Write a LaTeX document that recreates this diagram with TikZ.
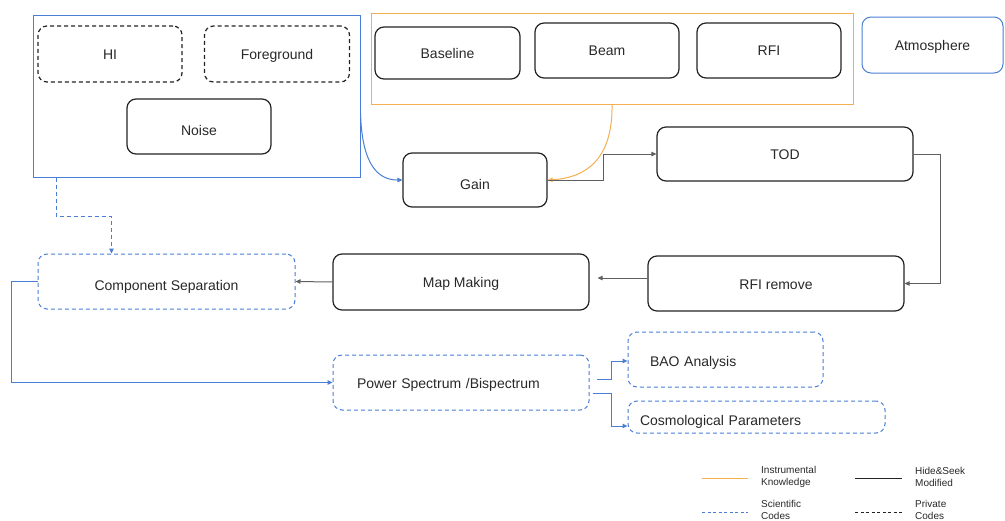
\documentclass[tikz,border=0pt]{standalone}
\usepackage{fontspec}
\setmainfont{Liberation Sans}
\usetikzlibrary{arrows.meta,calc}

\definecolor{sciblue}{RGB}{74,126,212}
\definecolor{instorange}{RGB}{244,175,82}
\definecolor{linkgray}{RGB}{95,95,95}
\definecolor{boxline}{RGB}{35,35,35}
\definecolor{textcol}{RGB}{40,40,40}

\tikzset{
  base/.style={rectangle, inner sep=0pt, align=center, text=textcol,
    font=\fontsize{14}{16}\selectfont, text height=10pt, text depth=0pt},
  lower/.style={text height=#1},
  hsbox/.style={base, draw=boxline, line width=1.2pt, rounded corners=9pt},
  privbox/.style={hsbox, dash pattern=on 4pt off 3pt},
  scibox/.style={base, draw=sciblue, line width=1pt, rounded corners=9pt,
    dash pattern=on 4pt off 3pt},
  atmobox/.style={base, draw=sciblue, line width=1pt, rounded corners=9pt},
  groupbox/.style={rectangle, inner sep=0pt, line width=1pt},
  tip/.style={-{Triangle[length=5pt,width=4.5pt]}},
  graylink/.style={tip, draw=linkgray, line width=1pt},
  bluelink/.style={tip, draw=sciblue, line width=1pt},
  orangelink/.style={tip, draw=instorange, line width=1pt},
  legtext/.style={inner sep=0pt, anchor=west, align=left, text=textcol,
    font=\fontsize{10}{11.5}\selectfont},
}

\begin{document}
\begin{tikzpicture}[x=1pt, y=-1pt]
\useasboundingbox (0,0) rectangle (1005,520);

% simulated sky components
\node[groupbox, draw=sciblue, minimum width=327pt, minimum height=162pt] (sky) at (196.5,96) {};
\node[privbox, minimum width=144pt, minimum height=56pt] (hi) at (110,54) {HI};
\node[privbox, minimum width=145pt, minimum height=56pt] (fg) at (277,54) {Foreground};
\node[hsbox, lower=17pt, minimum width=144pt, minimum height=55pt] (noise) at (199,126.5) {Noise};

% instrumental effects
\node[groupbox, draw=instorange, minimum width=482pt, minimum height=91pt] (inst) at (612,58.5) {};
\node[hsbox, minimum width=145pt, minimum height=52pt] (baseline) at (447.5,53) {Baseline};
\node[hsbox, minimum width=144pt, minimum height=55pt] (beam) at (607,50.5) {Beam};
\node[hsbox, minimum width=144pt, minimum height=55pt] (rfi) at (769,50.5) {RFI};
\node[atmobox, lower=11.5pt, minimum width=141pt, minimum height=56pt] (atmos) at (932.5,45) {Atmosphere};

% processing chain
\node[hsbox, lower=18pt, minimum width=144pt, minimum height=54pt] (gain) at (475,180) {Gain};
\node[hsbox, minimum width=256pt, minimum height=54pt] (tod) at (785,154) {TOD};
\node[hsbox, lower=11pt, minimum width=256pt, minimum height=55pt] (rfirem) at (776,283.5) {RFI remove};
\node[hsbox, minimum width=256pt, minimum height=56pt] (mapmk) at (461,282) {Map Making};
\node[scibox, lower=17pt, minimum width=257pt, minimum height=55pt] (compsep) at (166.5,281.5) {Component Separation};
\node[scibox, lower=11pt, minimum width=256pt, minimum height=55pt, inner xsep=24pt,
      text width=208pt, align=left] (pspec) at (461,382.5) {Power Spectrum /Bispectrum};
\node[scibox, lower=13pt, minimum width=195pt, minimum height=55pt, inner xsep=22pt,
      text width=151pt, align=left] (bao) at (725.5,359.5) {BAO Analysis};
\node[scibox, lower=16pt, minimum width=257pt, minimum height=32pt, inner xsep=12pt,
      text width=233pt, align=left] (cosmo) at (756.5,417) {Cosmological Parameters};

% connectors
\draw[bluelink] ([yshift=-17pt]sky.east) .. controls (362,165) and (378,180) .. (gain.west);
\draw[orangelink] (inst.south) .. controls (613,160) and (585,178) .. (gain.east);
\draw[graylink] (gain.east) -- ++(56,0) |- (tod.west);
\draw[graylink] (tod.east) -- ++(27,0) |- (rfirem.east);
\draw[graylink, shorten >=8pt] ([yshift=5.5pt]rfirem.west) -- ([yshift=5.5pt]rfirem.west -| mapmk.east);
\draw[graylink] (mapmk.west) -- (compsep.east);
\draw[bluelink, dash pattern=on 4pt off 3pt] ([xshift=24pt]sky.south west) -- ++(0,39) -| ([xshift=74pt]compsep.north west);
\draw[bluelink] (compsep.west) -- ++(-26,0) |- (pspec.west);
\draw[bluelink] ([xshift=7pt,yshift=3.5pt]pspec.east) -- ++(15,0) |- ([yshift=-1.5pt]bao.west);
\draw[bluelink] ([xshift=3pt,yshift=-10.5pt]pspec.east) -- ++(19,0) |- ([yshift=-9pt]cosmo.west);

% legend
\draw[instorange, line width=1pt] (702,478) -- (748,478);
\node[legtext] (lgi) at (761,477) {Instrumental\\Knowledge};
\draw[boxline, line width=1pt] (855,478) -- (902,478);
\node[legtext] (lgh) at (915,477) {Hide\&Seek\\Modified};
\draw[sciblue, line width=0.8pt, dash pattern=on 3pt off 2.5pt] (702,512) -- (748,512);
\node[legtext] (lgs) at (761,510) {Scientific\\Codes};
\draw[boxline, line width=0.8pt, dash pattern=on 3pt off 2.5pt] (855,512) -- (902,512);
\node[legtext] (lgp) at (915,510) {Private\\Codes};
\end{tikzpicture}
\end{document}
